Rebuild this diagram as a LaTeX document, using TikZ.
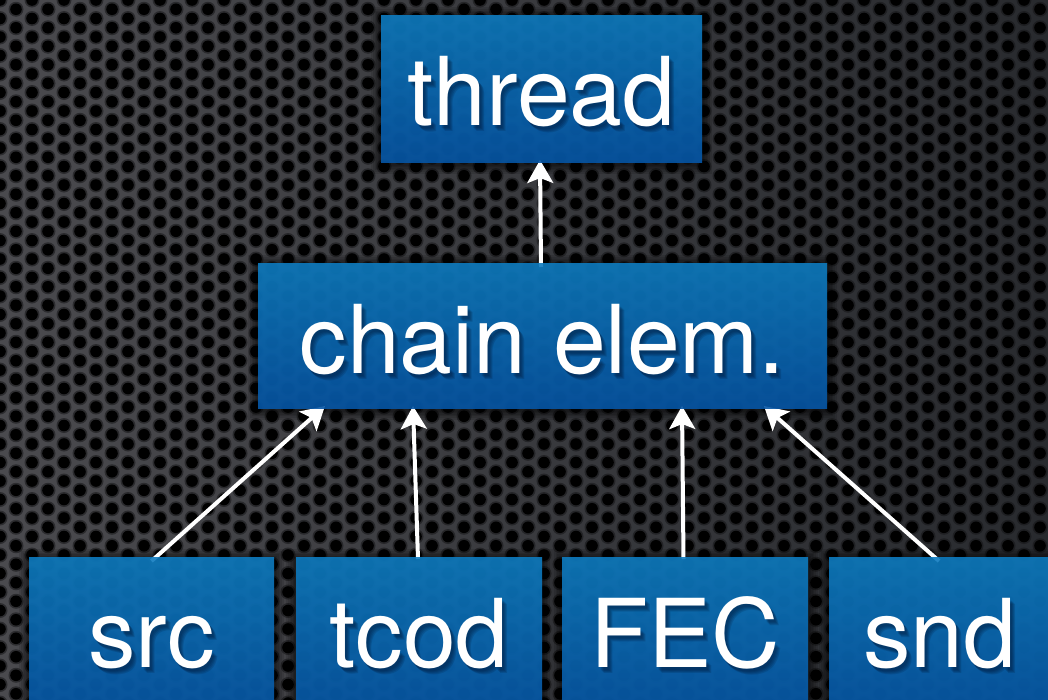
\documentclass[tikz,border=0pt]{standalone}
\usepackage{fontspec}
\setmainfont{TeX Gyre Heros}
\usetikzlibrary{arrows.meta}

\definecolor{boxtop}{RGB}{14,124,192}
\definecolor{boxbot}{RGB}{6,86,166}
\definecolor{bgleft}{RGB}{74,74,78}
\definecolor{bgright}{RGB}{40,42,46}
\definecolor{holerim}{RGB}{20,20,22}
\definecolor{txtshadow}{RGB}{0,20,50}

\pgfdeclarelayer{texture}
\pgfdeclarelayer{glow}
\pgfdeclarelayer{links}
\pgfsetlayers{texture,glow,links,main}

\tikzset{
  blk/.style={rectangle, inner sep=0pt, outer sep=0pt, anchor=north west,
    top color=boxtop, bottom color=boxbot, fill opacity=0.9},
  lbl/.style={text=white, inner sep=0pt, anchor=base,
    font=\fontsize{95pt}{100pt}\selectfont},
  lblshadow/.style={lbl, text=txtshadow, text opacity=0.16},
  arr/.style={draw=white, line width=4pt,
    -{Stealth[length=23pt, width=26pt, inset=5pt]}},
  hole/.style={fill=black},
  holeedge/.style={fill=holerim, opacity=0.55},
}

% label with a soft drop shadow, baseline 110pt below the box top
\newcommand\boxlabel[2]{%
  \foreach \k in {1,...,4}{
    \node[lblshadow] (#1-s\k) at ([shift={(1pt+\k pt,-112pt-\k pt)}]#1.north) {#2};
  }
  \node[lbl] (#1-l) at ([yshift=-110pt]#1.north) {#2};
}

\begin{document}
\begin{tikzpicture}[x=1pt, y=-1pt]
\useasboundingbox (0,0) rectangle (1048,699);

% perforated metal backdrop
\begin{pgfonlayer}{texture}
  \shade[left color=bgleft, right color=bgright] (0,0) rectangle (1048,699);
  \foreach \i in {0,...,66}{
    \pgfmathsetmacro\off{mod(\i,2)*9.25}
    \foreach \j in {-1,...,38}{
      \fill[holeedge] (\i*16, \j*18.5+\off) circle (7.5pt);
      \fill[hole] (\i*16, \j*18.5+\off) circle (5.8pt);
    }
  }
\end{pgfonlayer}

% boxes
\node[blk, minimum width=321pt, minimum height=147pt] (thread) at (381,15) {};
\node[blk, minimum width=569pt, minimum height=145pt] (chain) at (258,263) {};
\node[blk, minimum width=245pt, minimum height=160pt] (src) at (29,557) {};
\node[blk, minimum width=246pt, minimum height=160pt] (tcod) at (296,557) {};
\node[blk, minimum width=246pt, minimum height=160pt] (FEC) at (562,557) {};
\node[blk, minimum width=222pt, minimum height=160pt] (snd) at (829,557) {};

% dark halo around each box
\begin{pgfonlayer}{glow}
  \foreach \n in {thread,chain,src,tcod,FEC,snd}{
    \foreach \k in {1,...,6}{
      \fill[black, opacity=0.11]
        ([shift={(-\k*1.6pt,-\k*1.6pt-2pt)}]\n.south west) rectangle
        ([shift={(\k*1.6pt,\k*1.6pt-2pt)}]\n.north east);
    }
  }
\end{pgfonlayer}

% labels
\boxlabel{thread}{thread}
\boxlabel{chain}{chain elem.}
\boxlabel{src}{src}
\boxlabel{tcod}{tcod}
\boxlabel{FEC}{FEC}
\boxlabel{snd}{snd}

% arrow end points on the lower edge of the chain box
\coordinate (tip1) at ([shift={(67pt,2pt)}]chain.south west);
\coordinate (tip2) at ([shift={(155pt,2pt)}]chain.south west);
\coordinate (tip3) at ([shift={(424pt,2pt)}]chain.south west);
\coordinate (tip4) at ([shift={(506pt,2pt)}]chain.south west);
\coordinate (tip0) at ([shift={(-1.5pt,2pt)}]thread.south);

% connectors, drawn beneath the boxes
\begin{pgfonlayer}{links}
  \draw[arr] ([shift={(-1.5pt,-4pt)}]chain.north) -- (tip0);
  \draw[arr] ([yshift=-4pt]src.north) -- (tip1);
  \draw[arr] ([shift={(-1pt,-2pt)}]tcod.north) -- (tip2);
  \draw[arr] ([shift={(-1.5pt,-2pt)}]FEC.north) -- (tip3);
  \draw[arr] ([shift={(-1pt,-4pt)}]snd.north) -- (tip4);
\end{pgfonlayer}
\end{tikzpicture}
\end{document}
